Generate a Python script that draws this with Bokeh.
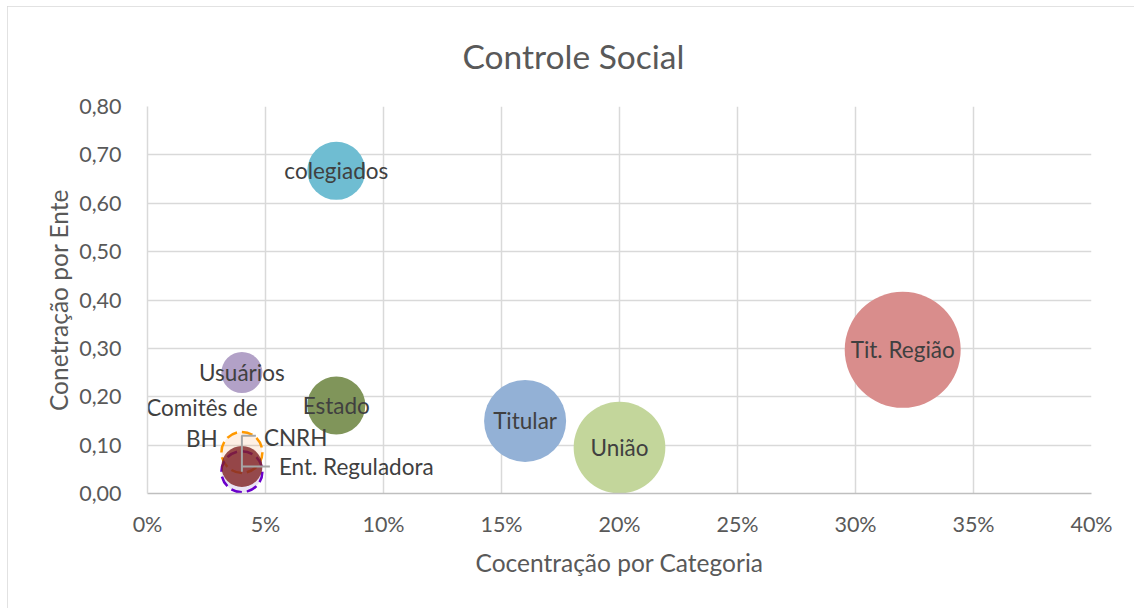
import math
from bokeh.plotting import figure
from bokeh.models import ColumnDataSource, FixedTicker, NumeralTickFormatter, Range1d, Title
from bokeh.core.properties import value
from bokeh.embed import file_html
from bokeh.resources import INLINE

# ---------------- data ----------------
names = ["Tit. Região", "União", "Titular", "colegiados", "Estado", "Usuários",
         "Comitês de BH", "CNRH", "Ent. Reguladora"]
label_texts = ["Tit. Região", "União", "Titular", "colegiados", "Estado", "Usuários",
               "Comitês de\nBH", "CNRH", "Ent. Reguladora"]
concentracao_categoria = [0.32, 0.20, 0.16, 0.08, 0.08, 0.04, 0.04, 0.04, 0.04]
concentracao_ente = [0.297, 0.095, 0.15, 0.667, 0.182, 0.25, 0.085, 0.045, 0.056]
bubble_size = [16, 10, 8, 4, 4, 2, 2, 2, 2]

x_ticks = [0.0, 0.05, 0.10, 0.15, 0.20, 0.25, 0.30, 0.35, 0.40]
y_ticks = [0.0, 0.1, 0.2, 0.3, 0.4, 0.5, 0.6, 0.7, 0.8]
y_tick_labels = ["0,00", "0,10", "0,20", "0,30", "0,40", "0,50", "0,60", "0,70", "0,80"]

title_text = "Controle Social"
x_title = "Cocentração por Categoria"
y_title = "Conetração por Ente"

# ---------------- styles ----------------
FONT = "Lato"
OX, OY = 7, 6                      # chart box offset inside the window
W, H = 1134 - OX, 608 - OY
ML, MT = 147 - OX, 106 - OY
MR, MB = W - (1091 - OX), H - (493 - OY)
FW, FH = W - ML - MR, H - MT - MB
px_x = FW / (x_ticks[-1] - x_ticks[0])
px_y = FH / (y_ticks[-1] - y_ticks[0])
k_size = 29.0

fills = {"Tit. Região": ("#D98D8C", 1.0), "União": ("#C3D69B", 1.0), "Titular": ("#93B1D6", 1.0),
         "colegiados": ("#6FBDD2", 1.0), "Estado": ("#80955A", 1.0), "Usuários": ("#B2A1C7", 1.0),
         "Comitês de BH": ("#F79646", 0.14), "CNRH": ("#8E6FC4", 0.18), "Ent. Reguladora": ("#7F2222", 0.8)}
lines = {"Comitês de BH": ("#FF9900", "11 5"), "CNRH": ("#6A00CC", "11 5")}
# label placement (pixels): (x_offset, y_offset, align)
label_pos = {"Comitês de BH": (-40, -29, "center"), "CNRH": (22, -34, "left"),
             "Ent. Reguladora": (37, 0, "left")}

p = figure(width=W, height=H, output_backend="svg", toolbar_location=None,
           x_range=Range1d(x_ticks[0], x_ticks[-1]), y_range=Range1d(y_ticks[0], y_ticks[-1]),
           min_border_left=ML, min_border_right=MR, min_border_top=MT, min_border_bottom=MB,
           background_fill_color="white", border_fill_color="white")
p.outline_line_color = None
p.styles = {"margin-left": f"{OX}px", "margin-top": f"{OY}px",
            "outline": "1px solid #D9D9D9", "outline-offset": "-1px"}

t = Title(text=title_text, align="left", offset=315, standoff=58, vertical_align="top",
          text_font=FONT, text_font_size="33.5px", text_font_style="normal", text_color="#595959")
p.add_layout(t, "above")

for g in (p.xgrid[0], p.ygrid[0]):
    g.grid_line_color = "#D9D9D9"
    g.grid_line_width = 1.5
p.xaxis.ticker = FixedTicker(ticks=x_ticks)
p.yaxis.ticker = FixedTicker(ticks=y_ticks)
p.xgrid.ticker = FixedTicker(ticks=x_ticks)
p.ygrid.ticker = FixedTicker(ticks=y_ticks)
p.xaxis.formatter = NumeralTickFormatter(format="0%")
p.yaxis.major_label_overrides = {t_: l for t_, l in zip(y_ticks, y_tick_labels)}

for ax in (p.xaxis[0], p.yaxis[0]):
    ax.major_tick_line_color = None
    ax.minor_tick_line_color = None
    ax.major_label_text_font = FONT
    ax.major_label_text_font_size = "21.5px"
    ax.major_label_text_color = "#595959"
    ax.axis_label_text_font = FONT
    ax.axis_label_text_font_size = "24.5px"
    ax.axis_label_text_font_style = "normal"
    ax.axis_label_text_color = "#595959"
p.xaxis.axis_line_color = "#BFBFBF"
p.xaxis.axis_line_width = 1.5
p.yaxis.axis_line_color = "#D9D9D9"
p.yaxis.axis_line_width = 1.5
p.xaxis.axis_label = x_title
p.yaxis.axis_label = y_title
p.xaxis.major_label_standoff = 11
p.yaxis.major_label_standoff = 20
p.xaxis.axis_label_standoff = 8
p.yaxis.axis_label_standoff = 3

# bubbles
for i, n in enumerate(names):
    fc, fa = fills[n]
    lc, dash = lines.get(n, (None, "solid"))
    src = ColumnDataSource(dict(x=[concentracao_categoria[i]], y=[concentracao_ente[i]],
                                s=[k_size * math.sqrt(bubble_size[i])]))
    p.scatter("x", "y", size="s", source=src, fill_color=fc, fill_alpha=fa,
              line_color=lc, line_width=2.5, line_dash=dash)

# leader lines
leader = dict(line_color="#A6A6A6", line_width=2)
i = names.index("CNRH")
cx, cy = concentracao_categoria[i], concentracao_ente[i]
p.line([cx, cx, cx + 14 / px_x], [cy, cy + 36 / px_y, cy + 36 / px_y], **leader)
i = names.index("Ent. Reguladora")
cx, cy = concentracao_categoria[i], concentracao_ente[i]
p.line([cx, cx + 28 / px_x], [cy, cy], **leader)

# data labels
for i, n in enumerate(names):
    xo, yo, al = label_pos.get(n, (0, 0, "center"))
    p.text([concentracao_categoria[i]], [concentracao_ente[i]], text=[label_texts[i]],
           x_offset=xo, y_offset=yo, text_align=al, text_baseline="middle",
           text_font=value(FONT), text_font_size="22.5px", text_color="#404040",
           text_line_height=1.15)

open("out.html", "w").write(file_html(p, INLINE))
